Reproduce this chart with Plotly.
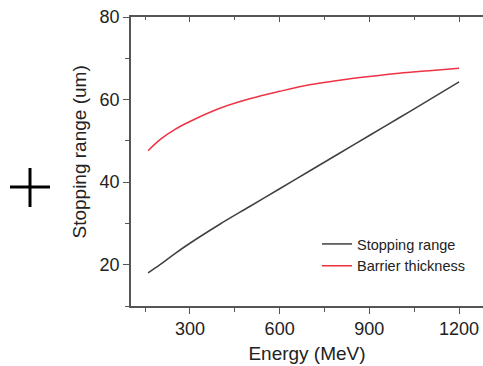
import plotly.graph_objects as go

energy = [160, 200, 250, 300, 400, 500, 600, 700, 800, 900, 1000, 1100, 1200]
stopping_range = [18.0, 20.0, 22.7, 25.2, 29.8, 34.1, 38.4, 42.7, 47.0, 51.3, 55.6, 59.9, 64.3]
barrier_thickness = [47.6, 50.3, 52.8, 54.7, 57.9, 60.2, 62.0, 63.6, 64.7, 65.6, 66.4, 67.0, 67.6]

W, H = 483, 366
L, R, T, B = 131, 0, 17, 60
pw, ph = W - L - R, H - T - B

def px(x):
    return (x - L) / pw

def py(y):
    return (H - B - y) / ph

font = "Liberation Sans, Arial, sans-serif"
axcol = "#555555"

fig = go.Figure()
fig.add_trace(go.Scatter(x=energy, y=stopping_range, mode="lines", name="Stopping range",
                         line=dict(color="#404040", width=1.5, shape="spline")))
fig.add_trace(go.Scatter(x=energy, y=barrier_thickness, mode="lines", name="Barrier thickness",
                         line=dict(color="#ee3344", width=1.5, shape="spline")))

fig.update_layout(
    width=W, height=H,
    margin=dict(l=L, r=R, t=T, b=B),
    paper_bgcolor="white", plot_bgcolor="white",
    font=dict(family=font, color="#222222"),
    showlegend=True,
    legend=dict(x=px(317), y=py(228), xanchor="left", yanchor="top",
                font=dict(size=14.5, family=font, color="#222222"),
                bgcolor="rgba(0,0,0,0)", borderwidth=0, tracegroupgap=0),
    xaxis=dict(range=[103, 1280], tick0=300, dtick=300, ticks="outside", ticklen=6,
               tickcolor=axcol, tickwidth=1.2,
               showline=True, linecolor=axcol, linewidth=1.5, showgrid=False, zeroline=False,
               tickfont=dict(size=18), title=dict(text="Energy (MeV)", font=dict(size=19), standoff=8),
               minor=dict(tick0=150, dtick=150, ticks="outside", ticklen=4, tickcolor=axcol)),
    xaxis2=dict(overlaying="x", matches="x", side="top", range=[103, 1280], tick0=300, dtick=300,
                ticks="inside", ticklen=5, tickcolor=axcol, showticklabels=False,
                showline=True, linecolor=axcol, linewidth=1.5, showgrid=False, zeroline=False,
                minor=dict(tick0=150, dtick=150, ticks="inside", ticklen=3, tickcolor=axcol)),
    yaxis=dict(range=[10, 80], tick0=20, dtick=20, ticks="outside", ticklen=6,
               tickcolor=axcol, tickwidth=1.2,
               showline=True, linecolor=axcol, linewidth=1.5, showgrid=False, zeroline=False,
               tickfont=dict(size=18),
               minor=dict(tick0=10, dtick=10, ticks="outside", ticklen=4, tickcolor=axcol)),
)

fig.add_trace(go.Scatter(x=[None], y=[None], xaxis="x2", showlegend=False, hoverinfo="skip"))

fig.add_annotation(text="Stopping range (um)", xref="paper", yref="paper",
                   x=px(79), y=py(152.5), xanchor="center", yanchor="middle",
                   textangle=-90, showarrow=False, font=dict(size=19, family=font, color="#222222"))

fig.add_shape(type="line", xref="paper", yref="paper", x0=px(10), x1=px(50), y0=py(187), y1=py(187),
              line=dict(color="black", width=3))
fig.add_shape(type="line", xref="paper", yref="paper", x0=px(30), x1=px(30), y0=py(168), y1=py(207),
              line=dict(color="black", width=3))

fig.write_html("out.html")
